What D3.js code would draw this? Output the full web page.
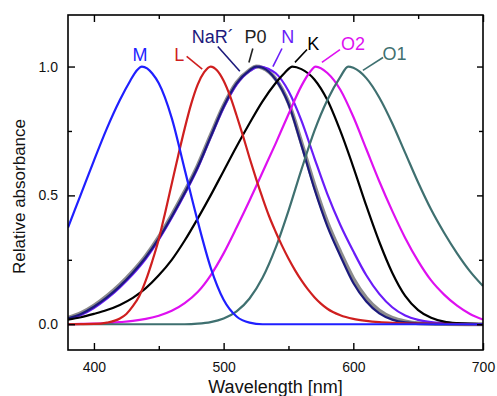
<!DOCTYPE html>
<html>
<head>
<meta charset="utf-8">
<script src="https://cdn.jsdelivr.net/npm/d3@7"></script>
<style>
  body { margin: 0; background: #fff; }
  svg { display: block; }
  text { font-family: "Liberation Sans", Arial, sans-serif; }
</style>
</head>
<body>
<div class="chart-wrapper"></div>
<script>
// absorbance spectra: [wavelength nm, relative absorbance]
const specM = [[380,0.375],[390,0.505],[400,0.635],[410,0.76],[420,0.87],[428,0.945],[433,0.985],[437,1.0],[441,0.993],[445,0.973],[450,0.935],[460,0.80],[470,0.60],[480,0.40],[490,0.22],[500,0.095],[510,0.03],[520,0.006],[530,0],[700,0]];
const specL = [[380,0],[400,0.001],[410,0.006],[420,0.022],[425,0.04],[430,0.07],[435,0.11],[440,0.17],[445,0.245],[450,0.33],[455,0.435],[460,0.545],[465,0.655],[470,0.76],[475,0.855],[480,0.93],[485,0.978],[490,1.0],[495,0.985],[500,0.945],[505,0.885],[510,0.81],[515,0.73],[520,0.645],[525,0.565],[530,0.49],[535,0.42],[540,0.36],[545,0.305],[550,0.255],[555,0.21],[560,0.17],[565,0.135],[570,0.105],[575,0.08],[580,0.06],[590,0.035],[600,0.021],[610,0.013],[620,0.008],[630,0.005],[650,0.002],[700,0]];
const specNaR = [[380,0.023],[390,0.04],[400,0.068],[410,0.104],[420,0.148],[430,0.2],[440,0.26],[450,0.333],[460,0.418],[470,0.51],[480,0.61],[490,0.728],[500,0.845],[510,0.935],[520,0.985],[525,1.0],[530,0.995],[540,0.95],[550,0.855],[560,0.695],[570,0.525],[580,0.38],[590,0.265],[600,0.16],[610,0.088],[620,0.042],[630,0.018],[640,0.007],[660,0.001],[700,0]];
const specP0 = [[380,0.025],[390,0.043],[400,0.072],[410,0.109],[420,0.153],[430,0.205],[440,0.265],[450,0.338],[460,0.423],[470,0.515],[480,0.615],[490,0.733],[500,0.848],[510,0.937],[520,0.986],[525,1.0],[530,0.995],[540,0.952],[550,0.86],[560,0.705],[570,0.54],[580,0.395],[590,0.28],[600,0.177],[610,0.102],[620,0.053],[630,0.025],[640,0.011],[650,0.004],[670,0.001],[700,0]];
const specN = [[380,0.02],[390,0.036],[400,0.063],[410,0.099],[420,0.143],[430,0.194],[440,0.254],[450,0.328],[460,0.413],[470,0.505],[480,0.605],[490,0.725],[500,0.84],[510,0.93],[520,0.982],[528,1.0],[535,0.99],[540,0.975],[550,0.905],[560,0.79],[570,0.645],[580,0.505],[590,0.385],[600,0.283],[610,0.19],[620,0.118],[630,0.066],[640,0.034],[650,0.017],[660,0.008],[680,0.002],[700,0]];
const specK = [[380,0.018],[390,0.027],[400,0.04],[410,0.055],[420,0.075],[430,0.102],[440,0.14],[450,0.19],[460,0.25],[470,0.325],[480,0.41],[490,0.5],[500,0.595],[510,0.69],[520,0.78],[530,0.865],[540,0.935],[547,0.975],[553,1.0],[560,0.99],[570,0.95],[580,0.87],[590,0.75],[600,0.61],[610,0.46],[620,0.32],[630,0.2],[640,0.11],[650,0.055],[660,0.025],[670,0.01],[680,0.004],[700,0]];
const specO2 = [[380,0],[390,0.001],[400,0.002],[410,0.004],[420,0.008],[430,0.013],[440,0.021],[450,0.033],[460,0.052],[470,0.082],[480,0.125],[490,0.19],[500,0.275],[510,0.375],[520,0.48],[530,0.59],[540,0.70],[550,0.815],[560,0.925],[566,0.975],[571,1.0],[580,0.975],[590,0.91],[600,0.805],[610,0.68],[620,0.555],[630,0.44],[640,0.335],[650,0.245],[660,0.17],[670,0.115],[680,0.072],[690,0.04],[700,0.018]];
const specO1 = [[380,0],[470,0],[480,0.002],[490,0.008],[500,0.022],[510,0.05],[520,0.1],[530,0.18],[540,0.295],[550,0.44],[560,0.6],[570,0.75],[580,0.87],[590,0.96],[596,1.0],[600,0.995],[610,0.955],[620,0.88],[630,0.78],[640,0.665],[650,0.55],[660,0.445],[670,0.355],[680,0.275],[690,0.205],[700,0.148]];

// series names in drawing order (gray P0 sits underneath)
const seriesNames = ['P0', 'N', 'NaR\u00b4', 'K', 'O2', 'O1', 'L', 'M'];
const seriesData = [specP0, specN, specNaR, specK, specO2, specO1, specL, specM];
const seriesColors = ['#8c8c8c', '#6a1cf8', '#1c1a7c', '#000000', '#de10f0', '#3f7070', '#cf1f1f', '#1f1fff'];

// label anchor (wavelength, absorbance) and leader line ends, in data units
const labelText = ['M', 'L', 'NaR\u00b4', 'P0', 'N', 'K', 'O2', 'O1'];
const labelColors = ['#1f1fff', '#cf1f1f', '#1c1a7c', '#222222', '#6a1cf8', '#000000', '#de10f0', '#3f7070'];
const labelPos = [[435.5, 1.02], [462, 1.02], [475.5, 1.09], [516, 1.09], [544.5, 1.09], [564.5, 1.063], [590.5, 1.063], [622.5, 1.025]];
const leaders = [null, [[471.5, 1.039], [483.5, 0.99]], [[495.5, 1.078], [512.5, 0.982]], [[522.5, 1.07], [519.5, 1.016]], [[545, 1.07], [538, 1.0]], [[564.3, 1.066], [555, 1.016]], [[589.7, 1.066], [575.8, 1.016]], [[622.9, 1.035], [607.4, 0.985]]];

// ticks
const xMajor = [400, 500, 600, 700];
const xMinor = [450, 550, 650];
const yMajor = [0, 0.5, 1.0];
const yMinor = [0.25, 0.75];

const width = 497, height = 396;
const margin = {top: 15, right: 14, bottom: 46, left: 68};

const x = d3.scaleLinear().domain([380, 700]).range([margin.left, width - margin.right]);
const y = d3.scaleLinear().domain([-0.1, 1.2]).range([height - margin.bottom, margin.top]);

const svg = d3.select('.chart-wrapper')
    .append('svg')
    .attr('width', width)
    .attr('height', height);

svg.append('clipPath').attr('id', 'plot-clip')
    .append('rect')
    .attr('x', x(380)).attr('y', y(1.2))
    .attr('width', x(700) - x(380)).attr('height', y(-0.1) - y(1.2));

// spectra
const line = d3.line()
    .x(d => x(d[0]))
    .y(d => y(d[1]))
    .curve(d3.curveMonotoneX);

svg.append('g')
    .attr('clip-path', 'url(#plot-clip)')
    .selectAll('path')
    .data(seriesData)
    .join('path')
    .attr('fill', 'none')
    .attr('stroke', (d, i) => seriesColors[i])
    .attr('stroke-width', (d, i) => seriesNames[i] === 'P0' ? 4 : 2.2)
    .attr('stroke-linejoin', 'round')
    .attr('d', line);

// axes, ticks pointing inward on all four sides
function styleAxis(g) {
    g.select('.domain').remove();
    g.selectAll('.tick line').attr('stroke', '#000').attr('stroke-width', 1.4);
    g.selectAll('.tick text').attr('fill', '#111').style('font-size', '14px');
}

const yH = height - margin.bottom;
svg.append('g').attr('transform', `translate(0,${yH})`)
    .call(d3.axisBottom(x).tickValues(xMajor).tickSize(-7).tickPadding(12).tickFormat(d3.format('d')))
    .call(styleAxis);
svg.append('g').attr('transform', `translate(0,${yH})`)
    .call(d3.axisBottom(x).tickValues(xMinor).tickSize(-4).tickFormat(''))
    .call(styleAxis);
svg.append('g').attr('transform', `translate(0,${margin.top})`)
    .call(d3.axisTop(x).tickValues(xMajor).tickSize(-7).tickFormat(''))
    .call(styleAxis);
svg.append('g').attr('transform', `translate(0,${margin.top})`)
    .call(d3.axisTop(x).tickValues(xMinor).tickSize(-4).tickFormat(''))
    .call(styleAxis);

svg.append('g').attr('transform', `translate(${margin.left},0)`)
    .call(d3.axisLeft(y).tickValues(yMajor).tickSize(-7).tickPadding(10).tickFormat(d3.format('.1f')))
    .call(styleAxis);
svg.append('g').attr('transform', `translate(${margin.left},0)`)
    .call(d3.axisLeft(y).tickValues(yMinor).tickSize(-4).tickFormat(''))
    .call(styleAxis);
svg.append('g').attr('transform', `translate(${width - margin.right},0)`)
    .call(d3.axisRight(y).tickValues(yMajor).tickSize(-6).tickFormat(''))
    .call(styleAxis);
svg.append('g').attr('transform', `translate(${width - margin.right},0)`)
    .call(d3.axisRight(y).tickValues(yMinor).tickSize(-4).tickFormat(''))
    .call(styleAxis);

// frame
svg.append('rect')
    .attr('x', x(380)).attr('y', y(1.2))
    .attr('width', x(700) - x(380)).attr('height', y(-0.1) - y(1.2))
    .attr('fill', 'none')
    .attr('stroke', '#000')
    .attr('stroke-width', 1.6);

// curve labels and leader lines
leaders.forEach((l, i) => {
    if (!l) return;
    svg.append('line')
        .attr('x1', x(l[0][0])).attr('y1', y(l[0][1]))
        .attr('x2', x(l[1][0])).attr('y2', y(l[1][1]))
        .attr('stroke', labelColors[i])
        .attr('stroke-width', 1.6);
});
svg.selectAll('.curve-label')
    .data(labelText)
    .join('text')
    .attr('class', 'curve-label')
    .attr('x', (d, i) => x(labelPos[i][0]))
    .attr('y', (d, i) => y(labelPos[i][1]))
    .attr('text-anchor', (d, i) => i === 0 ? 'middle' : 'start')
    .attr('fill', (d, i) => labelColors[i])
    .style('font-size', '18px')
    .text(d => d);

// axis titles
svg.append('text')
    .attr('x', (x(380) + x(700)) / 2)
    .attr('y', 393)
    .attr('text-anchor', 'middle')
    .attr('fill', '#111')
    .style('font-size', '18px')
    .text('Wavelength [nm]');

svg.append('text')
    .attr('transform', `translate(25,${(y(1.2) + y(-0.1)) / 2 + 14}) rotate(-90)`)
    .attr('text-anchor', 'middle')
    .attr('fill', '#111')
    .style('font-size', '17px')
    .text('Relative absorbance');
</script>
</body>
</html>
